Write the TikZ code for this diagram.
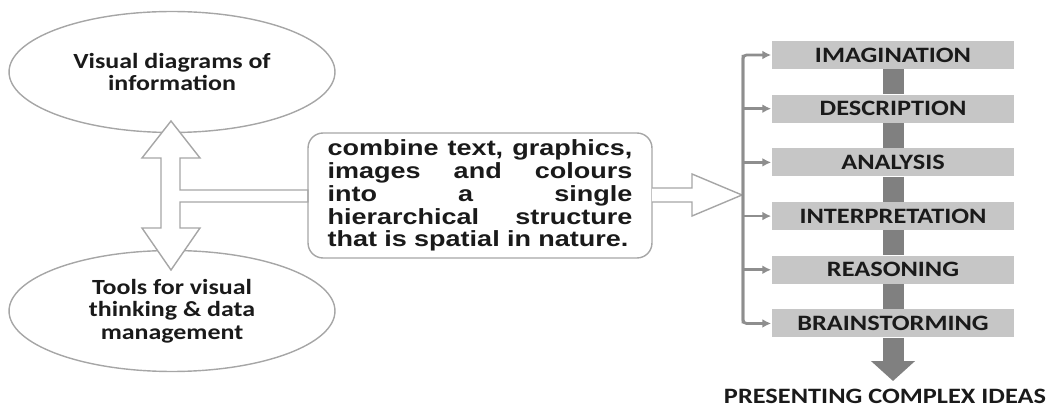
\documentclass[tikz,border=0pt]{standalone}
\usepackage{fontspec}
\setmainfont{Carlito}[FakeStretch=1.2]
\newfontfamily\blurbfont{Liberation Sans}[FakeStretch=1.23]
\usetikzlibrary{shapes.geometric,arrows.meta,positioning}

\definecolor{outline}{HTML}{A6A6A6}
\definecolor{boxgray}{HTML}{C6C6C6}
\definecolor{bargray}{HTML}{808080}
\definecolor{trunkgray}{HTML}{8E8E8E}
\definecolor{ink}{HTML}{1A1A1A}

% one justified line of the text box
\newcommand{\jline}[1]{\leavevmode\hbox to 6.1cm{#1}}

\begin{document}
\begin{tikzpicture}[x=0.02cm, y=-0.02cm,
    bubble/.style={ellipse, draw=outline, line width=0.8pt, inner sep=0pt,
        minimum width=6.52cm, minimum height=2.42cm, align=center, text=ink,
        font=\bfseries\fontsize{12.3}{12.8}\selectfont},
    blurb/.style={draw=outline, line width=0.8pt, rounded corners=0.3cm,
        minimum width=6.88cm, minimum height=2.5cm, inner sep=0pt,
        text width=6.1cm, align=left, text=ink,
        font=\blurbfont\bfseries\fontsize{12.5}{13}\selectfont},
    stage/.style={fill=boxgray, minimum width=4.86cm, minimum height=0.56cm,
        inner sep=0pt, text=ink, font=\bfseries\fontsize{12.5}{14}\selectfont},
    blockarrow/.style={draw=outline, line width=0.8pt, fill=white},
    branch/.style={draw=trunkgray, line width=1.6pt},
    tipgray/.style={-{Latex[length=5pt,width=5pt]}},
    bar/.style={draw=bargray, line width=0.42cm}]

    \useasboundingbox (0,0) rectangle (1051,408);

    % left column
    \node[bubble] (visual) at (172,72) {Visual diagrams of\\information};
    \node[bubble] (tools) at (172,311) {Tools for visual\\thinking \& data\\management};

    % double block arrow with its branch to the text box
    \draw[blockarrow] (171,121) -- (200,158) -- (180,158) -- (180,190)
        -- (308,190) -- (308,202) -- (180,202) -- (180,228) -- (200,228)
        -- (171,270) -- (142,228) -- (161,228) -- (161,158) -- (142,158) -- cycle;

    % middle text box
    \node[blurb] (txt) at (480,195.5)
        {\jline{combine\hfil text,\hfil graphics,}\\
         \jline{images\hfil and\hfil colours}\\
         \jline{into\hfil a\hfil single}\\
         \jline{hierarchical\hfil structure}\\
         that is spatial in nature.};

    % block arrow to the stages
    \draw[blockarrow] (652,188) -- (692,188) -- (692,174) -- (742,195)
        -- (692,216) -- (692,202) -- (652,202);

    % stages
    \node[stage] (img) at (893,55) {IMAGINATION};
    \node[stage, below=0.5cm of img] (des) {DESCRIPTION};
    \node[stage, below=0.5cm of des] (ana) {ANALYSIS};
    \node[stage, below=0.5cm of ana] (int) {INTERPRETATION};
    \node[stage, below=0.5cm of int] (rea) {REASONING};
    \node[stage, below=0.5cm of rea] (bst) {BRAINSTORMING};

    \foreach \a/\b in {img/des,des/ana,ana/int,int/rea,rea/bst}
        \draw[bar] (\a.south) -- (\b.north);

    \node[text=ink, font=\bfseries\fontsize{12.5}{14}\selectfont] (goal) at (885,396)
        {PRESENTING COMPLEX IDEAS};
    \coordinate (tip) at (893,381);
    \draw[bar, -{Triangle[length=0.4cm,width=0.86cm]}] (bst.south) -- (tip);

    % trunk feeding the stages
    \coordinate (trunk) at (743,0);
    \draw[branch, tipgray, rounded corners=2pt] (bst.west -| trunk) |- (img.west);
    \draw[branch, tipgray, rounded corners=2pt] (img.west -| trunk) |- (bst.west);
    \foreach \s in {des,ana,int,rea}
        \draw[branch, tipgray] (\s.west -| trunk) -- (\s.west);
\end{tikzpicture}
\end{document}
